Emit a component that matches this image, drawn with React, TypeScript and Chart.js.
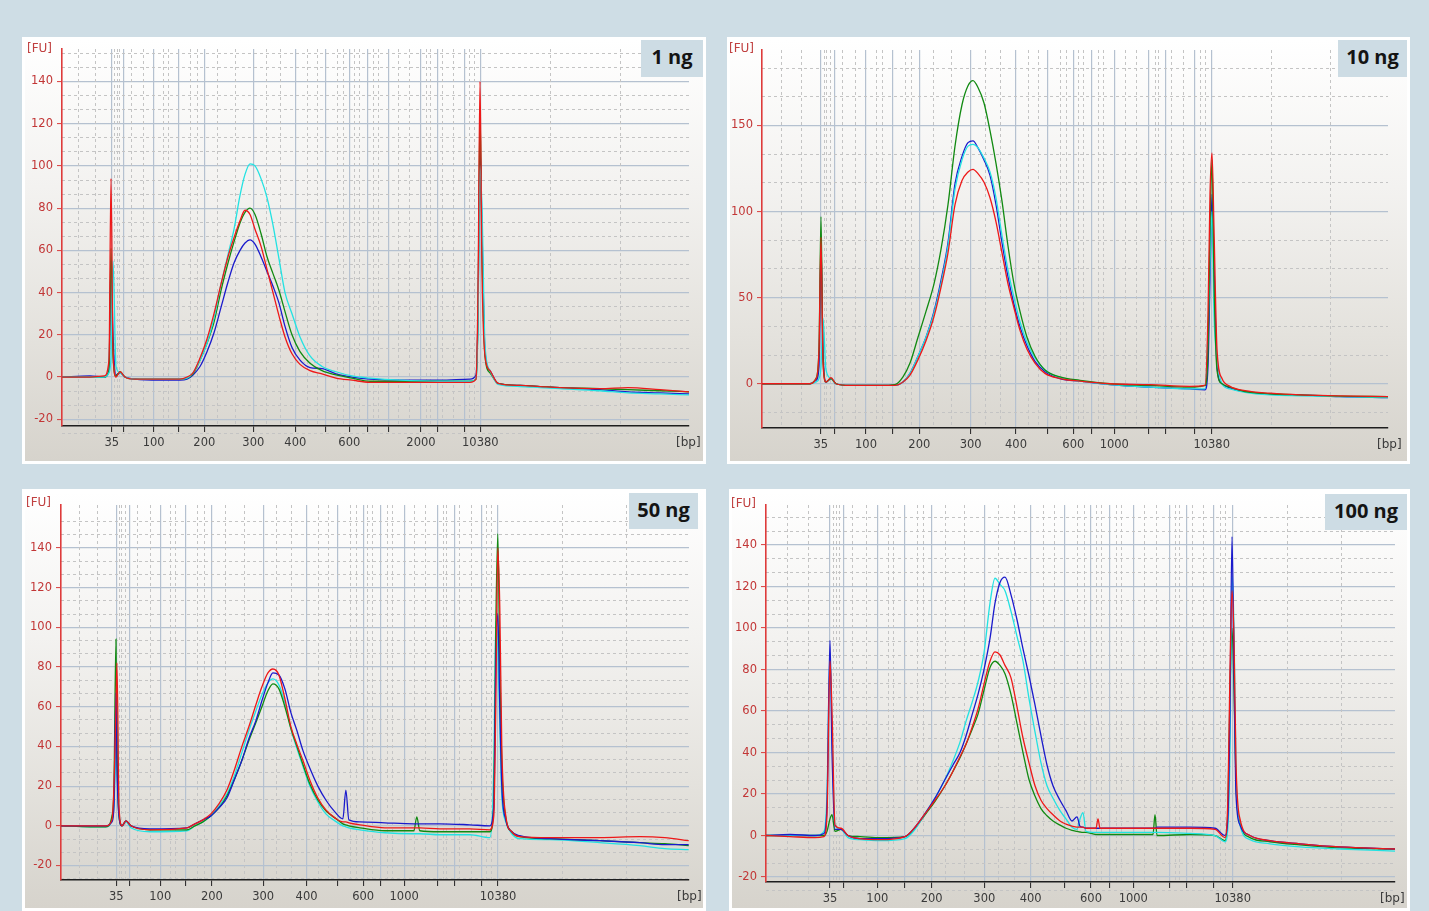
import React, { useEffect, useRef } from "react";
import { Chart, registerables } from "chart.js";

Chart.register(...registerables);

// ---------- Panel 1 : 1 ng ----------
const p1Time = [0, 28, 42, 47, 49, 51, 54, 58, 63, 73, 98, 118, 125, 131, 138, 145, 152, 159, 166, 172, 178, 183, 188, 193, 199, 205, 211, 217, 223, 230, 238, 248, 260, 274, 290, 308, 338, 378, 408, 414, 416, 418, 420, 423, 428, 436, 458, 478, 498, 538, 566, 598, 627];
const p1Red = [0, 0, 0.5, 8, 94, 12, 0, 2.5, 0, -1, -1, -1, 0, 2, 9, 18, 30, 44, 57, 66, 74, 79, 77, 70, 62, 51, 40, 29, 19, 11, 6, 3, 1.5, -0.5, -1.5, -2.5, -2.5, -2.5, -2.5, -1, 40, 140, 50, 10, 3, -3, -4, -4.5, -5, -5.5, -5, -6, -7];
const p1Green = [0, 0, 0, 3, 61, 10, 0.5, 2.5, 0, -1, -1, -1, -0.5, 1.5, 8, 16, 26, 41, 54, 64, 73, 78, 80, 77, 68, 57, 49, 41, 31, 20, 12, 6.5, 3, 1, -0.5, -2, -2, -2, -2, -1, 30, 125, 60, 10, 2, -3, -4, -4.5, -5, -5.5, -6, -6.5, -7];
const p1Blue = [0, 0.5, 0, 3, 55, 20, 1, 2, 0, -1, -1.5, -1.5, -1, 1, 5, 12, 21, 33, 45, 54, 60, 63.5, 65, 63, 57, 50, 43, 35, 24, 14, 8, 4.5, 4, 1.5, 0, -1, -1.5, -1.5, -1, 1, 30, 110, 70, 12, 3, -3, -4, -4.5, -5, -6, -7, -7.5, -8];
const p1Cyan = [0, 0, 0, 2, 10, 55, 5, 2, 0, -1, -1, -1, -0.5, 2, 8, 16, 28, 44, 58, 70, 86, 96, 101, 100, 94, 85, 72, 56, 40, 30, 19, 10, 5, 2.5, 0.5, -0.5, -1.5, -2, -2, -1, 25, 100, 80, 15, 3, -3.5, -4.5, -5, -5.5, -6.5, -7.5, -8, -8.5];
const p1TickPos = [49.7, 61.7, 91.7, 116.7, 142.3, 191.3, 233.3, 264, 287.3, 305.5, 326.7, 359, 375.3, 402.3, 418.3];
const p1TickLabels = ["35", "", "100", "", "200", "300", "400", "", "600", "", "", "2000", "", "", "10380"];
const p1MinorX = [16.7, 33, 52.6, 55, 57.9, 69.9, 81.9, 101.7, 106.7, 128.5, 135, 155.4, 173.2, 204.6, 218.5, 245.4, 255.2, 275.4, 281.4, 292.2, 297.2, 311.7, 316.4, 336.7, 347.6, 364.9, 368.1, 381, 391.9, 407.5, 412.1, 488.5, 558.4];

// ---------- Panel 2 : 10 ng ----------
const p2Time = [0, 28, 48, 54, 57, 59, 61, 64, 69, 74, 88, 118, 133, 141, 148, 156, 164, 172, 179, 186, 193, 200, 206, 211, 216, 222, 228, 234, 240, 246, 252, 258, 265, 273, 283, 298, 318, 348, 388, 428, 443, 446, 448, 450, 452, 455, 460, 468, 483, 508, 538, 578, 626];
const p2Red = [0, 0, 0, 3, 20, 85, 12, 1, 3.5, 0, -1, -1, -1, 1, 5, 14, 25, 39, 56, 76, 104, 118, 123, 124.5, 122, 117, 108, 94, 76, 58, 44, 31, 20, 12, 6, 3, 1.5, 0, -0.5, -1.5, -1, 40, 110, 134, 90, 20, 3, -1.5, -4, -5.5, -6.5, -7, -7.5];
const p2Green = [0, 0, 0, 3, 20, 97, 15, 1, 3, 0, -1, -1, -0.5, 4, 12, 27, 42, 58, 78, 104, 138, 162, 173, 176, 172, 163, 147, 128, 106, 80, 58, 42, 27, 16, 8, 4, 2, 0, -1, -2, -1, 20, 90, 130, 60, 8, 0, -2, -4.5, -5.8, -6.5, -7.2, -7.5];
const p2Blue = [0, 0, 0, 2, 10, 80, 20, 1, 3, 0, -1, -1, -1, 1, 6, 16, 27, 42, 60, 82, 116, 132, 140, 141, 137, 130, 121, 104, 82, 62, 46, 33, 22, 13, 7, 3, 1.5, -0.5, -2, -3, -3.5, 10, 60, 110, 70, 10, 0, -2.5, -4.5, -6, -6.5, -7.5, -8];
const p2Cyan = [0, 0, 0, 1, 3, 10, 38, 8, 3, 0, -1, -1, -1, 1, 6, 16, 27, 41, 58, 80, 113, 130, 138, 139, 137, 131, 123, 108, 86, 66, 50, 36, 24, 15, 8, 3.5, 1.5, -0.5, -2, -3, -3, 30, 70, 100, 40, 15, 0, -3, -5, -6.5, -7, -7.5, -8];
const p2TickPos = [58.7, 72.3, 104, 130.7, 157.3, 208.7, 254, 285.3, 311.3, 329.7, 352.3, 387, 403.7, 432.3, 449.7];
const p2TickLabels = ["35", "", "100", "", "200", "300", "400", "", "600", "", "1000", "", "", "", "10380"];
const p2MinorX = [19.7, 39, 62, 64.7, 68, 81, 93.7, 114.7, 120, 143, 149.7, 171, 189.7, 223, 238, 266.3, 276.3, 298, 304.7, 316.3, 321.3, 336.3, 341.3, 363, 374.7, 393, 396.3, 409.7, 421.3, 438, 443, 509, 568];

// ---------- Panel 3 : 50 ng ----------
const p3Time = [0, 29, 45, 51, 53, 55, 56, 58, 61, 65, 70, 89, 126, 134, 142, 150, 158, 166, 174, 181, 188, 195, 201, 207, 212, 218, 224, 230, 236, 242, 249, 257, 265, 274, 282, 285, 288, 299, 324, 353, 356, 359, 379, 409, 429, 433, 435, 437, 439, 441, 445, 451, 459, 489, 539, 579, 604, 628];
const p3Red = [0, 0, 0, 3, 20, 60, 82, 10, 0, 2.5, 0, -2, -1, 1, 3, 6, 11, 18, 29, 40, 50, 61, 70, 77, 79, 76, 64, 50, 41, 33, 23, 14, 8, 4, 2, 2, 1.5, 0.5, -1, -1, -1, -1, -1.5, -1.5, -2, 5, 60, 140, 110, 40, 5, -3, -5.5, -6, -6, -5.5, -6, -7.5];
const p3Green = [0, -0.5, -0.5, 5, 20, 94, 40, 5, 0, 2.5, 0, -2, -2, 0, 2, 5, 9, 15, 24, 33, 43, 52, 60, 68, 71.5, 69, 60, 49, 40, 31, 21, 13, 7.5, 4, 1, 0.5, 0, -1, -2.5, -2.5, 4.5, -2.5, -3, -3, -3, 10, 100, 147, 80, 30, 4, -3, -5.5, -6.5, -7.5, -8.5, -9, -10];
const p3Blue = [0, 0, 0, 2, 10, 67, 30, 5, 0, 2.5, 0, -1.5, -1, 1, 3, 5, 9, 14, 24, 33, 44, 53, 63, 72, 77, 76, 69, 57, 48, 38, 29, 20, 13, 7, 3.5, 18, 3, 2, 1.5, 1, 1, 1, 1, 0.5, 0, 10, 80, 107, 60, 20, 3, -3, -5, -6.5, -7.5, -8.5, -9.5, -9.5];
const p3Cyan = [0, -0.5, -0.5, 3, 10, 40, 60, 8, 0, 2, -1, -3, -2.5, 0, 2, 5, 10, 16, 26, 37, 48, 58, 66, 72, 74, 71, 62, 49, 39, 30, 20, 12, 6, 2.5, 0, -0.5, -1, -2, -3.5, -4, -4, -4, -4.5, -4.5, -6, 30, 103, 90, 50, 15, 2, -4, -6.5, -7, -8.5, -10, -11.5, -12];
const p3TickPos = [55.3, 68.3, 99.3, 125, 151, 202.3, 245.7, 277, 302.3, 320, 343.3, 376.3, 393.3, 420.7, 437.3];
const p3TickLabels = ["35", "", "100", "", "200", "300", "400", "", "600", "", "1000", "", "", "", "10380"];
const p3MinorX = [18.6, 36.7, 58.5, 61, 64.2, 76.8, 89.2, 109.6, 114.7, 137, 143.6, 164.7, 183.3, 216, 230.4, 258, 268, 289.4, 295.9, 307.1, 311.9, 326.8, 332, 353.5, 364.6, 382.4, 385.8, 399, 410.2, 426.1, 430.9, 501.5, 565.5];

// ---------- Panel 4 : 100 ng ----------
const p4Time = [0, 24, 49, 58, 61, 64, 66, 69, 75, 82, 94, 114, 139, 149, 159, 169, 179, 187, 194, 200, 206, 212, 218, 224, 229, 234, 239, 245, 251, 257, 263, 269, 275, 281, 287, 294, 300, 306, 311, 314, 317, 320, 330, 332, 334, 354, 387, 389, 391, 424, 449, 459, 462, 464, 466, 468, 470, 474, 484, 504, 534, 574, 629];
const p4Red = [0, -0.5, -1, -0.5, 10, 84, 60, 5, 3.5, 0, -1.5, -2, -0.5, 4, 10.5, 17, 24, 31, 38, 44, 52, 61, 73, 84, 88.5, 87, 82, 76, 62, 47, 35, 24, 17, 13, 10, 7, 5.5, 4.5, 4, 4, 4, 3.5, 3.5, 8, 3.5, 3.5, 3.5, 3.5, 3.5, 3.5, 3, -1, 20, 80, 118, 95, 35, 8, 0, -2.5, -4, -5.5, -6.5];
const p4Green = [0, 0, 0, 0, 2, 8, 10, 2, 3, 0, -0.5, -1, -0.5, 3.5, 10, 16.5, 24, 31, 37.5, 44, 51, 58.5, 70, 81, 84, 82, 78, 68, 54, 40, 27, 19, 13, 9.5, 7, 5, 3.5, 2.5, 2, 1.7, 1.5, 1.5, 0.5, 0.5, 0.5, 0.5, 0.5, 10, 0, 0.5, 0, -2.5, 15, 70, 100, 70, 25, 6, -1, -3, -4.5, -6, -6.5];
const p4Blue = [0, 0.5, 0, 1, 15, 94, 40, 3, 3, 0, -1.5, -1.5, -0.5, 4, 10.5, 18, 27, 34, 40, 48, 58, 68, 80, 95, 112, 122, 124.5, 116, 104, 90, 77, 63, 48, 34, 24, 17, 12, 7, 9, 4.5, 4, 3.5, 3.5, 3.5, 3.5, 3.5, 3.5, 3.5, 4, 4, 3.5, 0, 10, 60, 144, 80, 20, 5, 0, -2.5, -4, -5.5, -6.5];
const p4Cyan = [0, 0, 0, 2, 20, 88, 50, 5, 3, -1, -2, -2.5, -1.5, 3, 10.5, 18, 27, 36, 45, 55, 64, 74, 88, 112, 124, 121, 118, 108, 96, 84, 66, 50, 35, 24, 18, 12, 8, 4, 3, 8, 11, 2, 1.5, 1.5, 1.5, 1.5, 1.5, 1.5, 1.5, 1, 0, -3, 5, 40, 125, 100, 30, 5, -2, -4, -5.5, -6.5, -7.5];
const p4TickPos = [64, 77.7, 111.3, 138.3, 165.7, 218.3, 264.7, 298.3, 325, 343.3, 367.3, 403.3, 420.7, 448, 466.7];
const p4TickLabels = ["35", "", "100", "", "200", "300", "400", "", "600", "", "1000", "", "", "", "10380"];
const p4MinorX = [21.5, 42.5, 67.3, 70, 73.4, 86.9, 100.4, 122.1, 127.5, 151, 157.9, 179.7, 198.8, 232.9, 248.3, 277.9, 288.6, 311.3, 318.2, 330, 335, 350.3, 355.6, 378.4, 390.5, 409.6, 413, 426.4, 437.5, 454.1, 459.5, 521.3, 575.5];

// ---------- FU axis ticks ----------
const fuTicks20 = [-20, 0, 20, 40, 60, 80, 100, 120, 140];
const fuMinor20 = [-26.67, -13.33, -6.67, 6.67, 13.33, 26.67, 33.33, 46.67, 53.33, 66.67, 73.33, 86.67, 93.33, 106.67, 113.33, 126.67, 133.33, 146.67, 153.33];
const fuTicks50 = [0, 50, 100, 150];
const fuMinor50 = [-16.67, 16.67, 33.33, 66.67, 83.33, 116.67, 133.33, 166.67, 183.33];

const panelNames = ["1 ng", "10 ng", "50 ng", "100 ng"];

const COLORS = { red: "#ee1818", green: "#118a11", blue: "#1a1acc", cyan: "#22e2e2" };

const PANELS = [
  {
    name: panelNames[0],
    time: p1Time,
    traces: [
      { label: "red", color: COLORS.red, values: p1Red },
      { label: "cyan", color: COLORS.cyan, values: p1Cyan },
      { label: "green", color: COLORS.green, values: p1Green },
      { label: "blue", color: COLORS.blue, values: p1Blue },
    ],
    xMax: 627, yMin: -23.2, yMax: 155.4,
    xTicks: p1TickPos, xLabels: p1TickLabels, xMinor: p1MinorX,
    yTicks: fuTicks20, yMinor: fuMinor20,
    frame: { left: 22, top: 37, width: 684, height: 427 },
    plot: { padTop: 9, padRight: 14, yW: 37, xH: 35 },
    box: { left: 641, top: 40, width: 62, height: 37 },
    fu: { left: 27, top: 41 }, bp: { left: 676, top: 435 },
  },
  {
    name: panelNames[1],
    time: p2Time,
    traces: [
      { label: "red", color: COLORS.red, values: p2Red },
      { label: "green", color: COLORS.green, values: p2Green },
      { label: "cyan", color: COLORS.cyan, values: p2Cyan },
      { label: "blue", color: COLORS.blue, values: p2Blue },
    ],
    xMax: 626, yMin: -25.7, yMax: 193.8,
    xTicks: p2TickPos, xLabels: p2TickLabels, xMinor: p2MinorX,
    yTicks: fuTicks50, yMinor: fuMinor50,
    frame: { left: 727, top: 37, width: 683, height: 427 },
    plot: { padTop: 10, padRight: 19, yW: 32, xH: 33 },
    box: { left: 1338, top: 40, width: 69, height: 37 },
    fu: { left: 729, top: 41 }, bp: { left: 1377, top: 437 },
  },
  {
    name: panelNames[2],
    time: p3Time,
    traces: [
      { label: "red", color: COLORS.red, values: p3Red },
      { label: "blue", color: COLORS.blue, values: p3Blue },
      { label: "green", color: COLORS.green, values: p3Green },
      { label: "cyan", color: COLORS.cyan, values: p3Cyan },
    ],
    xMax: 628.3, yMin: -27.3, yMax: 161.6,
    xTicks: p3TickPos, xLabels: p3TickLabels, xMinor: p3MinorX,
    yTicks: fuTicks20, yMinor: fuMinor20,
    frame: { left: 22, top: 489, width: 684, height: 422 },
    plot: { padTop: 13, padRight: 14, yW: 36, xH: 28 },
    box: { left: 629, top: 493, width: 69, height: 36 },
    fu: { left: 26, top: 495 }, bp: { left: 677, top: 889 },
  },
  {
    name: panelNames[3],
    time: p4Time,
    traces: [
      { label: "red", color: COLORS.red, values: p4Red },
      { label: "blue", color: COLORS.blue, values: p4Blue },
      { label: "cyan", color: COLORS.cyan, values: p4Cyan },
      { label: "green", color: COLORS.green, values: p4Green },
    ],
    xMax: 629, yMin: -22.4, yMax: 159.3,
    xTicks: p4TickPos, xLabels: p4TickLabels, xMinor: p4MinorX,
    yTicks: fuTicks20, yMinor: fuMinor20,
    frame: { left: 729, top: 489, width: 681, height: 422 },
    plot: { padTop: 13, padRight: 12, yW: 34, xH: 26 },
    box: { left: 1325, top: 494, width: 82, height: 36 },
    fu: { left: 731, top: 496 }, bp: { left: 1380, top: 891 },
  },
];

const TICK_FONT = { family: "DejaVu Sans", size: 11.5 };
const BORDER = 3;

function Panel({ def }: { def: any }) {
  const ref = useRef<HTMLCanvasElement | null>(null);
  const cw = def.frame.width - BORDER * 2;
  const ch = def.frame.height - BORDER * 2;

  useEffect(() => {
    const canvas = ref.current;
    if (!canvas) return;
    const p = def.plot;
    const chart = new Chart(canvas, {
      type: "line",
      data: {
        datasets: def.traces.map((t: any) => ({
          label: t.label,
          data: def.time.map((x: number, i: number) => ({ x, y: t.values[i] })),
          borderColor: t.color,
          backgroundColor: t.color,
          borderWidth: 1.3,
          pointRadius: 0,
          fill: false,
          cubicInterpolationMode: "monotone",
          xAxisID: "x",
          yAxisID: "y",
        })),
      },
      options: {
        animation: false,
        responsive: false,
        maintainAspectRatio: false,
        devicePixelRatio: 1,
        events: [],
        layout: { padding: { top: p.padTop, right: p.padRight, left: 0, bottom: 0 } },
        plugins: {
          legend: { display: false },
          tooltip: { enabled: false },
          title: { display: false },
        },
        scales: {
          x: {
            type: "linear",
            position: "bottom",
            min: 0,
            max: def.xMax,
            afterBuildTicks: (s: any) => {
              s.ticks = def.xTicks.map((v: number) => ({ value: v }));
            },
            afterFit: (s: any) => {
              s.height = p.xH;
              s.paddingLeft = 0;
              s.paddingRight = 0;
            },
            ticks: {
              autoSkip: false,
              maxRotation: 0,
              minRotation: 0,
              padding: 4,
              color: "#3a3a3a",
              font: TICK_FONT,
              callback: (_v: any, i: number) => def.xLabels[i] ?? "",
            },
            grid: {
              color: "#b5c1d0",
              lineWidth: 1.2,
              drawTicks: true,
              tickLength: 6,
              tickColor: "#222222",
              tickWidth: 1,
            },
            border: { display: true, color: "#1e1e1e", width: 1.5 },
          },
          y: {
            type: "linear",
            position: "left",
            min: def.yMin,
            max: def.yMax,
            afterBuildTicks: (s: any) => {
              s.ticks = def.yTicks.map((v: number) => ({ value: v }));
            },
            afterFit: (s: any) => {
              s.width = p.yW;
              s.paddingTop = 0;
              s.paddingBottom = 0;
            },
            ticks: {
              padding: 4,
              color: "#c23636",
              font: TICK_FONT,
              callback: (v: any) => String(v),
            },
            grid: {
              color: "#b5c1d0",
              lineWidth: 1.2,
              drawTicks: true,
              tickLength: 5,
              tickColor: "#d83c3c",
              tickWidth: 1,
            },
            border: { display: true, color: "#de3b3b", width: 1.6 },
          },
          xMinor: {
            type: "linear",
            position: "bottom",
            min: 0,
            max: def.xMax,
            afterBuildTicks: (s: any) => {
              s.ticks = def.xMinor.map((v: number) => ({ value: v }));
            },
            afterFit: (s: any) => {
              s.height = 0;
              s.paddingLeft = 0;
              s.paddingRight = 0;
            },
            ticks: { display: false },
            grid: { color: "#c4c4c4", lineWidth: 1, drawTicks: false },
            border: { display: false, dash: [3, 3] },
          },
          yMinor: {
            type: "linear",
            position: "left",
            min: def.yMin,
            max: def.yMax,
            afterBuildTicks: (s: any) => {
              s.ticks = def.yMinor.map((v: number) => ({ value: v }));
            },
            afterFit: (s: any) => {
              s.width = 0;
              s.paddingTop = 0;
              s.paddingBottom = 0;
            },
            ticks: { display: false },
            grid: { color: "#c4c4c4", lineWidth: 1, drawTicks: false },
            border: { display: false, dash: [3, 3] },
          },
        },
      } as any,
    });
    return () => chart.destroy();
  }, [def]);

  const f = def.frame;
  const textBase: React.CSSProperties = {
    position: "absolute",
    fontFamily: "DejaVu Sans",
    fontSize: 12,
    lineHeight: "14px",
    whiteSpace: "nowrap",
  };

  return (
    <>
      <div
        style={{
          position: "absolute",
          left: f.left,
          top: f.top,
          width: f.width,
          height: f.height,
          background: "#ffffff",
        }}
      >
        <div
          style={{
            position: "absolute",
            left: BORDER,
            top: BORDER,
            width: cw,
            height: ch,
            background: "linear-gradient(180deg, #ffffff 0%, #f3f2f0 35%, #e4e2dd 70%, #d6d3cc 100%)",
          }}
        >
          <canvas ref={ref} width={cw} height={ch} style={{ display: "block", width: cw, height: ch }} />
        </div>
      </div>
      <div style={{ ...textBase, left: def.fu.left, top: def.fu.top, color: "#c04040" }}>[FU]</div>
      <div style={{ ...textBase, left: def.bp.left, top: def.bp.top, color: "#3a3a3a" }}>[bp]</div>
      <div
        style={{
          position: "absolute",
          left: def.box.left,
          top: def.box.top,
          width: def.box.width,
          height: def.box.height,
          background: "#cddce4",
          color: "#141414",
          fontFamily: "'Open Sans', 'DejaVu Sans', sans-serif",
          fontWeight: 700,
          fontSize: 20,
          lineHeight: "33px",
          textAlign: "center",
          whiteSpace: "nowrap",
        }}
      >
        {def.name}
      </div>
    </>
  );
}

export default function App() {
  return (
    <div
      style={{
        position: "absolute",
        left: 0,
        top: 0,
        width: 1429,
        height: 911,
        background: "#cedde5",
        overflow: "hidden",
      }}
    >
      {PANELS.map((d, i) => (
        <Panel key={i} def={d} />
      ))}
    </div>
  );
}
